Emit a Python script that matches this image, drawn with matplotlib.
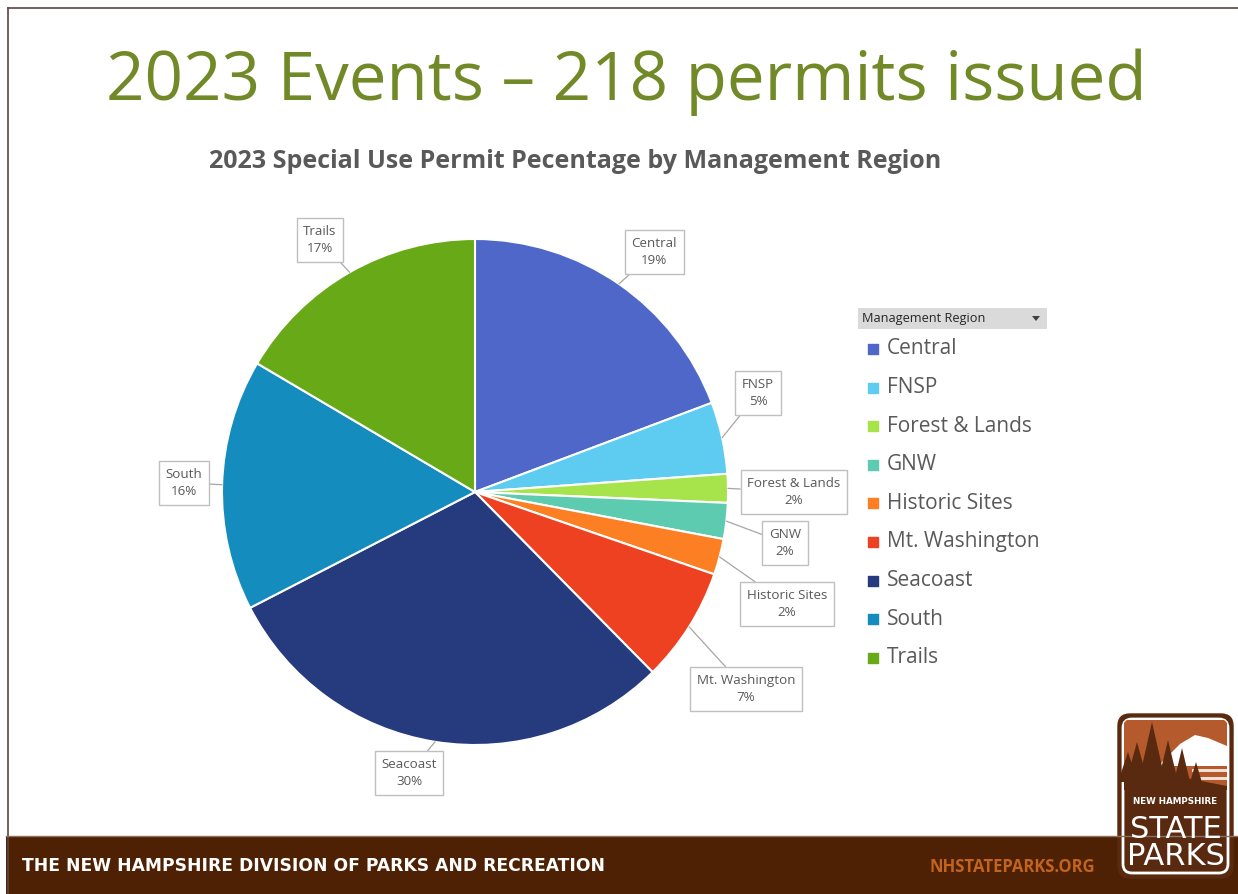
import numpy as np
import matplotlib
matplotlib.use('Agg')
import matplotlib.pyplot as plt
from matplotlib.patches import Rectangle, FancyBboxPatch, Polygon

# permits per management region (218 total)
regions = ['Central', 'FNSP', 'Forest & Lands', 'GNW', 'Historic Sites',
           'Mt. Washington', 'Seacoast', 'South', 'Trails']
permits = [42, 10, 4, 5, 5, 16, 65, 35, 36]
colors = ['#4e67c8', '#5ecbf0', '#a7e34b', '#5dcbb0', '#fd7f24',
          '#ee4122', '#263a7e', '#148dbe', '#67a916']

# label box offsets, in pie radii from centre
label_pos = [(0.708, 0.949), (1.119, 0.391), (1.261, 0.0), (1.225, -0.202),
             (1.233, -0.443), (1.071, -0.779), (-0.261, -1.111),
             (-1.150, 0.036), (-0.613, 0.996)]

W, H = 1238, 894
fig = plt.figure(figsize=(W / 100, H / 100), dpi=100)
ax = fig.add_axes([0, 0, 1, 1])

grey = '#595959'
font = 'Open Sans'
brown = '#5a2a10'

# pie
cx, cy, r = 475, H - 492, 253
wedges, _ = ax.pie(permits, colors=colors, startangle=90, counterclock=False,
                   center=(cx, cy), radius=r, frame=True,
                   wedgeprops=dict(edgecolor='white', linewidth=1.5))
ax.set_xlim(0, W)
ax.set_ylim(0, H)
ax.set_aspect('equal')
ax.axis('off')

# slide border
ax.plot([8, 8], [0, H - 8], color='#5a4646', lw=1.2)
ax.plot([8, W], [H - 8, H - 8], color='#5a4646', lw=1.2)

# titles
ax.text(626, H - 100, '2023 Events \u2013 218 permits issued', color='#718a27',
        fontsize=48.5, family=font, ha='center', va='baseline')
ax.text(575, H - 168, '2023 Special Use Permit Pecentage by Management Region',
        color=grey, fontsize=18, family=font, weight='bold', ha='center', va='baseline')

total = sum(permits)
for w, name, v, (lx, ly) in zip(wedges, regions, permits, label_pos):
    mid = np.deg2rad((w.theta1 + w.theta2) / 2)
    xy = (cx + r * np.cos(mid), cy + r * np.sin(mid))
    ax.annotate(f'{name}\n{round(v / total * 100)}%', xy=xy,
                xytext=(cx + lx * r, cy + ly * r), ha='center', va='center',
                fontsize=9.6, color=grey, family=font, linespacing=1.45,
                bbox=dict(boxstyle='square,pad=0.5', fc='white', ec='#bfbfbf', lw=1),
                arrowprops=dict(arrowstyle='-', color='#a6a6a6', lw=0.9,
                                shrinkA=0, shrinkB=0))

# legend
ax.add_patch(Rectangle((858, H - 329), 189, 21, fc='#dadada', ec='none'))
ax.text(862, H - 318.5, 'Management Region', fontsize=9.2, family=font,
        color='#262626', va='center')
ax.add_patch(Polygon([[1032, H - 316], [1040, H - 316], [1036, H - 321]],
                     closed=True, fc='#404040', ec='none'))
for i, (name, c) in enumerate(zip(regions, colors)):
    y = H - 349 - i * 38.6
    ax.scatter(873, y, marker='s', s=42, color=c)
    ax.text(887, y, name, fontsize=15, family=font, color=grey, va='center')

# footer bar
ax.add_patch(Rectangle((6, 0), W - 6, 58, fc='#4e2104', ec='none'))
ax.plot([6, W], [58, 58], color='#8a7060', lw=1)
ax.text(22, 28, 'THE NEW HAMPSHIRE DIVISION OF PARKS AND RECREATION', color='white',
        fontsize=12.3, family='DejaVu Sans', weight='bold', va='center')
ax.text(1095, 27, 'NHSTATEPARKS.ORG', color='#c2641f', fontsize=12,
        family=font, weight='bold', va='center', ha='right')

# logo
ax.add_patch(FancyBboxPatch((1118, 16), 115, 164, boxstyle='round,pad=0,rounding_size=12',
                            fc=brown, ec=brown, lw=1))
inner = FancyBboxPatch((1123, 21), 105, 154, boxstyle='round,pad=0,rounding_size=9',
                       fc=brown, ec='white', lw=2)
ax.add_patch(inner)
sky = Rectangle((1124, 106), 103, 68, fc='#b45a2c', ec='none')
ax.add_patch(sky)
sky.set_clip_path(inner)
mountain = Polygon([[1158, 128], [1180, 150], [1195, 159], [1208, 156], [1227, 148],
                    [1227, 128]], closed=True, fc='white', ec='none')
ax.add_patch(mountain)
for yy in [122, 114]:
    ax.add_patch(Rectangle((1192, yy), 35, 3, fc='#f2e0d4', ec='none'))
ax.add_patch(Polygon([[1124, 104], [1124, 128], [1227, 108], [1227, 104]], closed=True,
                     fc=brown, ec='none'))
for tx, ty, tw, th in [(1128, 112, 10, 30), (1137, 112, 11, 40), (1152, 110, 14, 62),
                       (1168, 108, 11, 46), (1182, 108, 9, 38), (1196, 108, 7, 24)]:
    ax.add_patch(Polygon([[tx - tw, ty], [tx + tw, ty], [tx, ty + th]], closed=True,
                         fc=brown, ec='none'))
ax.text(1175.5, 92, 'NEW HAMPSHIRE', color='white', fontsize=6.3, family='DejaVu Sans',
        weight='bold', ha='center', va='center')
ax.text(1175.5, 51, 'STATE\nPARKS', color='white', fontsize=22, family='DejaVu Sans',
        ha='center', va='center', linespacing=0.95)

fig.savefig('out.png', dpi=100, facecolor='white')
